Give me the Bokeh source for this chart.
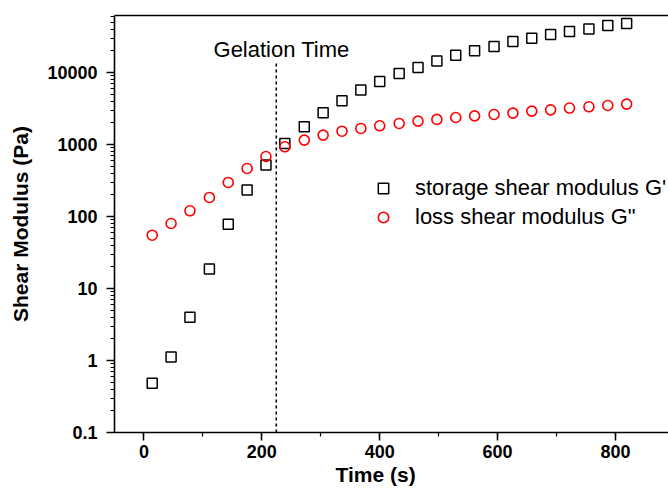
from bokeh.plotting import figure
from bokeh.models import (Range1d, LogTicker, SingleIntervalTicker, FixedTicker,
                          CustomJSTickFormatter, Label, Legend, LegendItem,
                          LinearAxis, ColumnDataSource, Title)
from bokeh.embed import file_html
from bokeh.resources import INLINE

# ---- data ----
time_s = [14, 46, 78, 111, 143, 175, 207, 239, 272, 304, 336, 368, 400,
          433, 465, 497, 529, 561, 594, 626, 658, 690, 722, 755, 787, 819]
storage_modulus = [0.485, 1.12, 4.0, 18.6, 78, 233, 518, 1030, 1760, 2750, 4050,
                   5700, 7500, 9700, 11700, 14500, 17400, 20000, 23000, 27000,
                   30000, 33700, 37100, 40100, 45000, 47900]
loss_modulus = [55, 80, 120, 184, 297, 464, 681, 929, 1150, 1350, 1530, 1670,
                1820, 1960, 2110, 2230, 2370, 2500, 2610, 2730, 2910, 3030,
                3210, 3340, 3480, 3640]
gelation_time = 224.5
gelation_line_top = 14600
x_tick_interval = 200

FONT = "Liberation Sans"

src = ColumnDataSource(dict(t=time_s, g1=storage_modulus, g2=loss_modulus))

p = figure(width=668, height=490, y_axis_type="log",
           x_range=Range1d(-50, 890), y_range=Range1d(0.1, 61900),
           output_backend="svg", toolbar_location=None,
           min_border_left=114, min_border_right=0,
           min_border_top=15, min_border_bottom=58)
p.grid.visible = False
p.outline_line_color = None
p.background_fill_color = "white"
p.border_fill_color = "white"

def style_axis(ax):
    ax.axis_line_color = "black"
    ax.axis_line_width = 1.6
    ax.major_tick_line_color = "black"
    ax.major_tick_line_width = 1.5
    ax.minor_tick_line_color = "black"
    ax.minor_tick_line_width = 1.2
    ax.major_tick_in = 0
    ax.major_tick_out = 8
    ax.minor_tick_in = 0
    ax.minor_tick_out = 4
    ax.major_label_text_font = FONT
    ax.major_label_text_font_style = "bold"
    ax.major_label_text_font_size = "18px"
    ax.major_label_text_color = "black"
    ax.axis_label_text_font = FONT
    ax.axis_label_text_font_style = "bold"
    ax.axis_label_text_font_size = "21px"
    ax.axis_label_text_color = "black"

xa = p.xaxis[0]
style_axis(xa)
xa.ticker = SingleIntervalTicker(interval=x_tick_interval, num_minor_ticks=2)
xa.major_label_standoff = 4
xa.axis_label = None

ya = p.yaxis[0]
style_axis(ya)
ya.ticker = LogTicker(num_minor_ticks=10)
ya.formatter = CustomJSTickFormatter(code="return Number(tick.toPrecision(6)).toString();")
ya.major_label_standoff = 9
ya.axis_label = "Shear Modulus (Pa)"
ya.axis_label_standoff = 12

top = LinearAxis(ticker=FixedTicker(ticks=[]), axis_line_color="black", axis_line_width=1.6,
                 major_tick_line_color=None, minor_tick_line_color=None,
                 major_tick_out=0, major_tick_in=0, minor_tick_out=0, minor_tick_in=0,
                 major_label_standoff=0)
p.add_layout(top, "above")

# x axis title (placed like the reference, left of frame centre)
p.add_layout(Title(text="Time (s)", align="left", offset=221, standoff=0,
                   text_font=FONT, text_font_size="21px", text_font_style="bold",
                   text_color="black"), "below")

# gelation time dotted line
p.segment(x0=[gelation_time], y0=[0.1], x1=[gelation_time], y1=[gelation_line_top],
          line_color="black", line_width=1.6, line_dash="3 3")

r1 = p.scatter("t", "g1", source=src, marker="square", size=10,
               fill_color=None, line_color="black", line_width=1.5)
r2 = p.scatter("t", "g2", source=src, marker="circle", size=10,
               fill_color=None, line_color="#ff0000", line_width=1.6)

p.add_layout(Label(x=118, y=21100, text="Gelation Time", text_font=FONT,
                   text_font_size="22px", text_color="black",
                   text_baseline="alphabetic", text_align="left"))

legend = Legend(items=[LegendItem(label="storage shear modulus G'", renderers=[r1]),
                       LegendItem(label="loss shear modulus G\"", renderers=[r2])],
                location=(256, 202), padding=0, margin=0,
                border_line_color=None, background_fill_alpha=0,
                glyph_width=26, glyph_height=26, label_height=26,
                label_standoff=19, spacing=3,
                label_text_font=FONT, label_text_font_size="22px",
                label_text_color="black")
p.add_layout(legend)

open("out.html", "w").write(file_html(p, INLINE))
